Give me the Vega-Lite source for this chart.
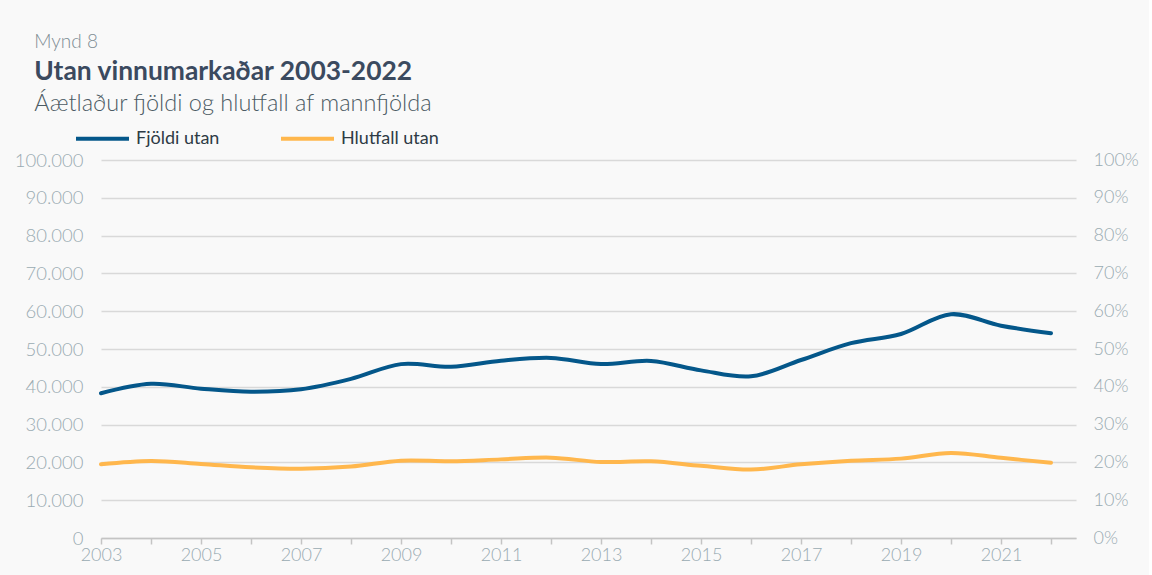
{
  "$schema": "https://vega.github.io/schema/vega-lite/v6.json",
  "background": "#f9f9f9",
  "padding": {"left": 14, "top": 33, "right": 10, "bottom": 12},
  "config": {
    "locale": {"number": {"decimal": ",", "thousands": ".", "grouping": [3], "currency": ["", ""]}},
    "font": "Lato",
    "view": {"stroke": null},
    "legend": {
      "orient": "none", "legendX": -27, "legendY": -50, "direction": "horizontal",
      "title": null, "symbolType": "stroke", "symbolSize": 2809, "symbolStrokeWidth": 4,
      "labelFont": "Lato", "labelFontSize": 18, "labelColor": "#2e3b45", "labelOffset": 5,
      "columnPadding": 53
    }
  },
  "title": {"text": "Mynd 8", "anchor": "start", "fontSize": 19, "fontWeight": 300, "color": "#7d8c93", "font": "Lato", "dx": 20, "offset": 7},
  "datasets": {
    "d": [
      {"year": 2003, "fjoldi": 38300, "hlutfall": 19.5},
      {"year": 2004, "fjoldi": 40800, "hlutfall": 20.4},
      {"year": 2005, "fjoldi": 39500, "hlutfall": 19.6},
      {"year": 2006, "fjoldi": 38700, "hlutfall": 18.7},
      {"year": 2007, "fjoldi": 39350, "hlutfall": 18.3},
      {"year": 2008, "fjoldi": 42100, "hlutfall": 18.9},
      {"year": 2009, "fjoldi": 46000, "hlutfall": 20.45},
      {"year": 2010, "fjoldi": 45300, "hlutfall": 20.3},
      {"year": 2011, "fjoldi": 46900, "hlutfall": 20.8},
      {"year": 2012, "fjoldi": 47650, "hlutfall": 21.25},
      {"year": 2013, "fjoldi": 46030, "hlutfall": 20.1},
      {"year": 2014, "fjoldi": 46830, "hlutfall": 20.3},
      {"year": 2015, "fjoldi": 44350, "hlutfall": 19.1},
      {"year": 2016, "fjoldi": 42770, "hlutfall": 18.1},
      {"year": 2017, "fjoldi": 47090, "hlutfall": 19.5},
      {"year": 2018, "fjoldi": 51550, "hlutfall": 20.45},
      {"year": 2019, "fjoldi": 53970, "hlutfall": 21.0},
      {"year": 2020, "fjoldi": 59200, "hlutfall": 22.5},
      {"year": 2021, "fjoldi": 56170, "hlutfall": 21.2},
      {"year": 2022, "fjoldi": 54150, "hlutfall": 19.9}
    ]
  },
  "vconcat": [
    {
      "width": 975,
      "height": 378,
      "title": {
        "text": "Utan vinnumarkaðar 2003-2022",
        "subtitle": "Áætlaður fjöldi og hlutfall af mannfjölda",
        "anchor": "start", "font": "Lato", "fontSize": 26.4, "fontWeight": "bold", "color": "#3b4a5f",
        "subtitleFont": "Lato", "subtitleFontSize": 23.5, "subtitleFontWeight": 300, "subtitleColor": "#4c5b64",
        "subtitlePadding": 6, "dx": 20, "offset": 36
      },
      "data": {"name": "d"},
      "encoding": {
        "x": {
          "field": "year", "type": "quantitative",
          "scale": {"domain": [2003, 2022.5], "nice": false, "zero": false},
          "axis": {
            "title": null, "grid": false,
            "values": [2003, 2004, 2005, 2006, 2007, 2008, 2009, 2010, 2011, 2012, 2013, 2014, 2015, 2016, 2017, 2018, 2019, 2020, 2021, 2022],
            "labelExpr": "(datum.value - 2003) % 2 == 0 ? format(datum.value, 'd') : ''",
            "labelFont": "Lato", "labelFontSize": 18, "labelFontWeight": 300, "labelColor": "#9aabb2",
            "labelFlush": false, "labelPadding": 2,
            "domainColor": "#c4c4c4", "domainWidth": 1.5, "tickColor": "#c4c4c4", "tickWidth": 1.5, "tickSize": 6
          }
        }
      },
      "layer": [
        {
          "mark": {"type": "line", "interpolate": "catmull-rom", "strokeWidth": 4, "strokeCap": "round"},
          "encoding": {
            "y": {
              "field": "fjoldi", "type": "quantitative",
              "scale": {"domain": [0, 100000], "nice": false},
              "axis": {
                "title": null, "orient": "left", "values": [0, 10000, 20000, 30000, 40000, 50000, 60000, 70000, 80000, 90000, 100000],
                "format": ",.0f", "domain": false, "ticks": false,
                "grid": true, "gridColor": "#d9d9d9", "gridWidth": 1.5,
                "labelFont": "Lato", "labelFontSize": 18.5, "labelFontWeight": 300, "labelColor": "#9aabb2", "labelPadding": 18
              }
            },
            "color": {
              "datum": "Fjöldi utan", "type": "nominal",
              "scale": {"domain": ["Fjöldi utan", "Hlutfall utan"], "range": ["#04578a", "#ffb74d"]}
            }
          }
        },
        {
          "mark": {"type": "line", "interpolate": "catmull-rom", "strokeWidth": 4, "strokeCap": "round"},
          "encoding": {
            "y": {
              "field": "hlutfall", "type": "quantitative",
              "scale": {"domain": [0, 100], "nice": false},
              "axis": {
                "title": null, "orient": "right", "values": [0, 10, 20, 30, 40, 50, 60, 70, 80, 90, 100],
                "labelExpr": "datum.value + '%'", "domain": false, "ticks": false, "grid": false,
                "labelFont": "Lato", "labelFontSize": 18, "labelFontWeight": 300, "labelColor": "#9aabb2", "labelPadding": 17
              }
            },
            "color": {"datum": "Hlutfall utan", "type": "nominal"}
          }
        }
      ],
      "resolve": {"scale": {"y": "independent"}}
    }
  ]
}
